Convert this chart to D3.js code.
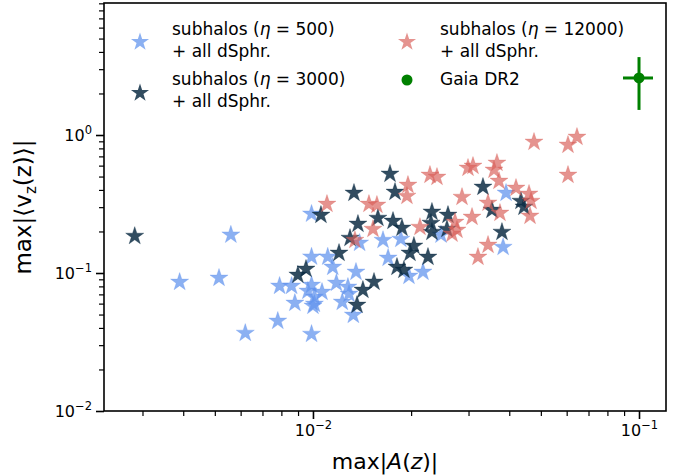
<!DOCTYPE html>
<html><head><meta charset="utf-8">
<script src="https://cdn.jsdelivr.net/npm/d3@7"></script>
<style>
body{margin:0;background:#fff}
svg{display:block}
text{font-family:"DejaVu Sans",sans-serif;fill:#000}
</style>
</head><body>
<svg id="chart" width="689" height="476"></svg>
<script>
// ---- data ----
const eta500X = [0.0056,0.0039,0.00515,0.0062,0.0078,0.0099,0.0099,0.0099,0.0111,0.0115,0.0079,0.0086,0.0099,0.01355,0.0118,0.01066,0.00965,0.0101,0.0088,0.0101,0.0123,0.0129,0.0133,0.0139,0.0164,0.0186,0.0170,0.0197,0.02175,0.0247,0.0391,0.0383,0.0128,0.0100];
const eta500Y = [0.189,0.086,0.092,0.0367,0.0449,0.0361,0.268,0.131,0.131,0.1105,0.0805,0.0805,0.0818,0.1017,0.0846,0.0728,0.0741,0.067,0.0606,0.0596,0.0616,0.0705,0.0496,0.165,0.173,0.176,0.1285,0.0951,0.1017,0.189,0.380,0.154,0.0792,0.0577];

const eta3000X = [0.00284,0.01058,0.01336,0.01723,0.01785,0.01374,0.01582,0.0176,0.01299,0.01202,0.00952,0.00899,0.01539,0.01423,0.01365,0.01875,0.02317,0.02595,0.02301,0.02576,0.02317,0.0204,0.01984,0.02253,0.0181,0.01901,0.03322,0.0354,0.04345,0.04438,0.03799];
const eta3000Y = [0.185,0.263,0.380,0.522,0.386,0.2265,0.250,0.238,0.179,0.1396,0.1069,0.0967,0.0861,0.0753,0.0586,0.212,0.277,0.263,0.230,0.208,0.198,0.157,0.1396,0.1306,0.1105,0.1051,0.420,0.286,0.332,0.301,0.198];

const eta12000X = [0.01104,0.01485,0.01571,0.01528,0.01345,0.01956,0.01942,0.02285,0.02401,0.02129,0.02727,0.02765,0.0267,0.03075,0.02865,0.03096,0.02989,0.03667,0.03591,0.0372,0.03443,0.03746,0.04195,0.04599,0.04665,0.04632,0.03443,0.03207,0.04764,0.06453,0.06056,0.06056];
const eta12000Y = [0.316,0.316,0.311,0.208,0.173,0.434,0.361,0.513,0.496,0.215,0.234,0.205,0.192,0.2545,0.355,0.596,0.577,0.627,0.558,0.464,0.322,0.272,0.413,0.374,0.332,0.259,0.1595,0.1306,0.890,0.967,0.847,0.513];

const gaiaX = [0.1], gaiaY = [2.59];
const gaiaXLo = [0.0893], gaiaXHi = [0.1104];
const gaiaYLo = [1.52], gaiaYHi = [3.67];

const xMajor = [0.01, 0.1];
const xMinor = [0.003,0.004,0.005,0.006,0.007,0.008,0.009,0.02,0.03,0.04,0.05,0.06,0.07,0.08,0.09];
const yMajor = [0.01, 0.1, 1];
const yMinor = [0.02,0.03,0.04,0.05,0.06,0.07,0.08,0.09,0.2,0.3,0.4,0.5,0.6,0.7,0.8,0.9,2,3,4,5,6,7,8,9];
const xTickExp = ["\u22122","\u22121"];
const yTickExp = ["\u22122","\u22121","0"];

const seriesNames = ["subhalos (\u03b7 = 500)","subhalos (\u03b7 = 3000)","subhalos (\u03b7 = 12000)"];

// ---- drawing ----
const svg = d3.select("#chart");
const L = 104, R = 666, T = 3, B = 411;
const x = d3.scaleLog().domain([0.002286, 0.1210]).range([L, R]);
const y = d3.scaleLog().domain([0.01, 9.05]).range([B, T]);

const colors = ["#6495ed", "#0d2d44", "#d9605a"];
const alphas = [0.75, 0.85, 0.68];
const starR = 9.5;
const star = d3.symbol().type(d3.symbolStar).size(starR*starR/0.8908130915);

const plot = svg.append("g");
function drawSeries(xs, ys, i){
  plot.selectAll(null).data(xs.map((v,k)=>[v, ys[k]])).enter()
    .append("path")
    .attr("d", star)
    .attr("transform", d => `translate(${x(d[0])},${y(d[1])})`)
    .attr("fill", colors[i]).attr("fill-opacity", alphas[i])
    .attr("stroke", colors[i]).attr("stroke-opacity", alphas[i]*0.5).attr("stroke-width", 0.8);
}
drawSeries(eta500X, eta500Y, 0);
drawSeries(eta3000X, eta3000Y, 1);
drawSeries(eta12000X, eta12000Y, 2);

// Gaia with error bars
const green = "#008000";
gaiaX.forEach((gx,i)=>{
  plot.append("line").attr("x1", x(gaiaXLo[i])).attr("x2", x(gaiaXHi[i]))
    .attr("y1", y(gaiaY[i])).attr("y2", y(gaiaY[i])).attr("stroke", green).attr("stroke-width", 3);
  plot.append("line").attr("x1", x(gx)).attr("x2", x(gx))
    .attr("y1", y(gaiaYLo[i])).attr("y2", y(gaiaYHi[i])).attr("stroke", green).attr("stroke-width", 3);
  plot.append("circle").attr("cx", x(gx)).attr("cy", y(gaiaY[i])).attr("r", 5.5).attr("fill", green);
});

// axes
const xAx = svg.append("g").attr("transform", `translate(0,${B})`);
xAx.append("g").call(d3.axisBottom(x).tickValues(xMinor).tickSize(5).tickFormat(()=>""))
  .call(g=>{g.select(".domain").remove(); g.selectAll("line").attr("stroke-width",1.2);});
const xm = xAx.append("g").call(d3.axisBottom(x).tickValues(xMajor).tickSize(8).tickFormat(()=>""))
  .call(g=>{g.select(".domain").remove(); g.selectAll("line").attr("stroke-width",1.6);});
xm.selectAll(".tick").each(function(d,i){
  const t = d3.select(this).append("text").attr("y", 25).attr("text-anchor","middle")
    .style("font-size","16px").attr("fill","#000");
  t.append("tspan").text("10");
  t.append("tspan").attr("dy", -7).style("font-size","11.5px").text(xTickExp[i]);
});

const yAx = svg.append("g").attr("transform", `translate(${L},0)`);
yAx.append("g").call(d3.axisLeft(y).tickValues(yMinor).tickSize(5).tickFormat(()=>""))
  .call(g=>{g.select(".domain").remove(); g.selectAll("line").attr("stroke-width",1.2);});
const ym = yAx.append("g").call(d3.axisLeft(y).tickValues(yMajor).tickSize(8).tickFormat(()=>""))
  .call(g=>{g.select(".domain").remove(); g.selectAll("line").attr("stroke-width",1.6);});
ym.selectAll(".tick").each(function(d,i){
  const t = d3.select(this).append("text").attr("x", -12).attr("dy", "0.35em").attr("text-anchor","end")
    .style("font-size","16px").attr("fill","#000");
  t.append("tspan").text("10");
  t.append("tspan").attr("dy", -7).style("font-size","11.5px").text(yTickExp[i]);
});

// frame
svg.append("rect").attr("x", L).attr("y", T).attr("width", R-L).attr("height", B-T)
  .attr("fill","none").attr("stroke","#000").attr("stroke-width",1.6);

// axis labels
const xl = svg.append("text").attr("x", (L+R)/2).attr("y", 469).attr("text-anchor","middle").style("font-size","22px");
xl.append("tspan").text("max|");
xl.append("tspan").style("font-style","italic").text("A");
xl.append("tspan").text("(");
xl.append("tspan").style("font-style","italic").text("z");
xl.append("tspan").text(")|");

const yl = svg.append("text").attr("transform", `translate(31,${(T+B)/2}) rotate(-90)`)
  .attr("text-anchor","middle").style("font-size","23px");
yl.append("tspan").text("max|\u27e8v");
yl.append("tspan").attr("dy", 5).style("font-size","15px").text("z");
yl.append("tspan").attr("dy", -5).text("(z)\u27e9|");

// legend
const leg = svg.append("g");
const legItems = [
  {col:0,row:0,type:"star",c:0,name:seriesNames[0]},
  {col:0,row:1,type:"star",c:1,name:seriesNames[1]},
  {col:1,row:0,type:"star",c:2,name:seriesNames[2]},
  {col:1,row:1,type:"dot",name:"Gaia DR2"}
];
const colMX = [140, 407], colTX = [172, 440];
legItems.forEach(it=>{
  const my = it.type==="star" ? (it.row===0 ? 42 : 93) : 80;
  if(it.type==="star"){
    leg.append("path").attr("d", star).attr("transform",`translate(${colMX[it.col]},${my})`)
      .attr("fill", colors[it.c]).attr("fill-opacity", alphas[it.c]);
  } else {
    leg.append("circle").attr("cx", colMX[it.col]).attr("cy", my).attr("r", 5.5).attr("fill", green);
  }
  const ty = it.row===0 ? 29 : 79;
  if(it.type==="star"){
    const m = it.name.match(/^(.*\()(\u03b7)(.*)$/);
    const t1 = leg.append("text").attr("x", colTX[it.col]).attr("y", ty).attr("dy","0.35em").style("font-size","17px");
    t1.append("tspan").text(m[1]);
    t1.append("tspan").style("font-style","italic").text(m[2]);
    t1.append("tspan").text(m[3]);
    leg.append("text").attr("x", colTX[it.col]).attr("y", ty+22).attr("dy","0.35em").style("font-size","17px").text("+ all dSphr.");
  } else {
    leg.append("text").attr("x", colTX[it.col]).attr("y", ty).attr("dy","0.35em").style("font-size","17px").text(it.name);
  }
});
</script>
</body></html>
